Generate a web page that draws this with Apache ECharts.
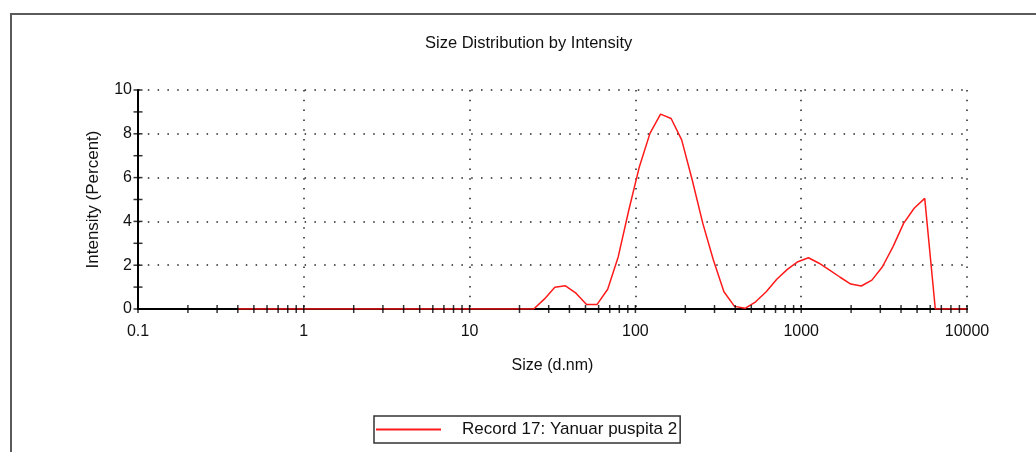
<!DOCTYPE html>
<html><head><meta charset="utf-8">
<script src="https://cdn.jsdelivr.net/npm/echarts@6/dist/echarts.min.js"></script>
<style>html,body{margin:0;padding:0;background:#fff}#c{width:1036px;height:452px}</style>
</head><body><div id="c"></div>
<script>
// Size bins (d.nm)
const sizes = [0.4, 0.4632, 0.5365, 0.6213, 0.7195, 0.8332, 0.9649,
  1.117, 1.294, 1.499, 1.736, 2.010, 2.328, 2.696, 3.122, 3.615, 4.187, 4.849, 5.615, 6.503, 7.531, 8.721,
  10.10, 11.70, 13.54, 15.69, 18.17, 21.04, 24.36, 28.21, 32.67, 37.84, 43.82, 50.75, 58.77, 68.06, 78.82, 91.28,
  105.7, 122.4, 141.8, 164.2, 190.1, 220.2, 255.0, 295.3, 342.0, 396.1, 458.7, 531.2, 615.1, 712.4, 825.0, 955.4,
  1106, 1281, 1484, 1718, 1990, 2305, 2669, 3091, 3580, 4145, 4801, 5560, 6439, 7456, 8635, 10000];
// Intensity (%) per bin
const intensity = [0, 0, 0, 0, 0, 0, 0,
  0, 0, 0, 0, 0, 0, 0, 0, 0, 0, 0, 0, 0, 0, 0,
  0, 0, 0, 0, 0, 0, 0, 0.45, 0.99, 1.06, 0.72, 0.21, 0.21, 0.9, 2.39, 4.52,
  6.5, 8.02, 8.9, 8.7, 7.72, 5.89, 3.91, 2.24, 0.79, 0.12, 0.03, 0.33, 0.79, 1.36, 1.81, 2.16,
  2.34, 2.09, 1.78, 1.45, 1.14, 1.05, 1.32, 1.93, 2.85, 3.91, 4.6, 5.05, 0, 0, 0, 0];
const seriesName = 'Record 17: Yanuar puspita 2';
const xTickLabels = ['0.1', '1', '10', '100', '1000', '10000'];
const decades = [0.1, 1, 10, 100, 1000];
const minorMultipliers = [1, 2, 3, 4, 5, 6, 7, 8, 9];
const yTickValues = [0, 1, 2, 3, 4, 5, 6, 7, 8, 9, 10];

const xTickValues = [];
decades.forEach(d => minorMultipliers.forEach(m => xTickValues.push(+(d * m).toPrecision(6))));
xTickValues.push(10000);

const RED = '#ff1a1a';
const FONT = "'Liberation Sans', Arial, sans-serif";
const chart = echarts.init(document.getElementById('c'), null, {renderer: 'canvas'});
chart.setOption({
  animation: false,
  backgroundColor: '#fff',
  graphic: [{
    type: 'rect', silent: true, z: 0,
    shape: {x: 11, y: 14, width: 1200, height: 600},
    style: {fill: 'none', stroke: '#5a5a5a', lineWidth: 2}
  }],
  title: {
    text: 'Size Distribution by Intensity',
    left: 425, top: 35, padding: 0,
    textStyle: {fontFamily: FONT, fontSize: 16.5, fontWeight: 'normal', color: '#111'}
  },
  legend: {
    left: 374, top: 416,
    padding: [5, 3, 5, 2],
    borderColor: '#333', borderWidth: 1.5,
    icon: 'rect', itemWidth: 65, itemHeight: 2,
    itemStyle: {color: RED},
    textStyle: {fontFamily: FONT, fontSize: 17, color: '#111', padding: [0, 0, 0, 16]},
    data: [seriesName]
  },
  grid: {left: 138, right: 69, top: 90, bottom: 143, containLabel: false},
  xAxis: {
    type: 'log', logBase: 10, min: 0.1, max: 10000,
    name: 'Size (d.nm)', nameLocation: 'middle', nameGap: 49,
    nameTextStyle: {fontFamily: FONT, fontSize: 16, color: '#111'},
    axisLine: {show: true, lineStyle: {color: '#000', width: 2}},
    axisTick: {show: false},
    axisLabel: {
      fontFamily: FONT, fontSize: 16, color: '#111', margin: 15,
      formatter: v => xTickLabels[Math.round(Math.log10(v)) + 1]
    },
    splitLine: {show: true, lineStyle: {color: '#222', width: 1.5, type: [1.5, 8.3]}}
  },
  yAxis: {
    type: 'value', min: 0, max: 10, interval: 2,
    name: 'Intensity (Percent)', nameLocation: 'middle', nameGap: 36,
    nameTextStyle: {fontFamily: FONT, fontSize: 17, color: '#111'},
    axisLine: {show: true, lineStyle: {color: '#000', width: 2}},
    axisTick: {show: false},
    axisLabel: {fontFamily: FONT, fontSize: 16, color: '#111', margin: 6},
    splitLine: {show: true, lineStyle: {color: '#222', width: 1.5, type: [1.5, 8.3]}}
  },
  series: [{
    name: seriesName, type: 'line',
    data: sizes.map((s, i) => [s, intensity[i]]),
    symbol: 'none', smooth: false, z: 3,
    lineStyle: {color: RED, width: 1.5},
    itemStyle: {color: RED}
  }, {
    name: 'xticks', type: 'scatter', silent: true, clip: false, z: 4,
    symbol: 'rect', symbolSize: [1.5, 8],
    itemStyle: {color: '#000'},
    data: xTickValues.map(v => [v, 0])
  }, {
    name: 'yticks', type: 'scatter', silent: true, clip: false, z: 4,
    symbol: 'rect', symbolSize: [9, 1.5],
    itemStyle: {color: '#000'},
    data: yTickValues.map(v => [0.1, v])
  }]
});
</script></body></html>
